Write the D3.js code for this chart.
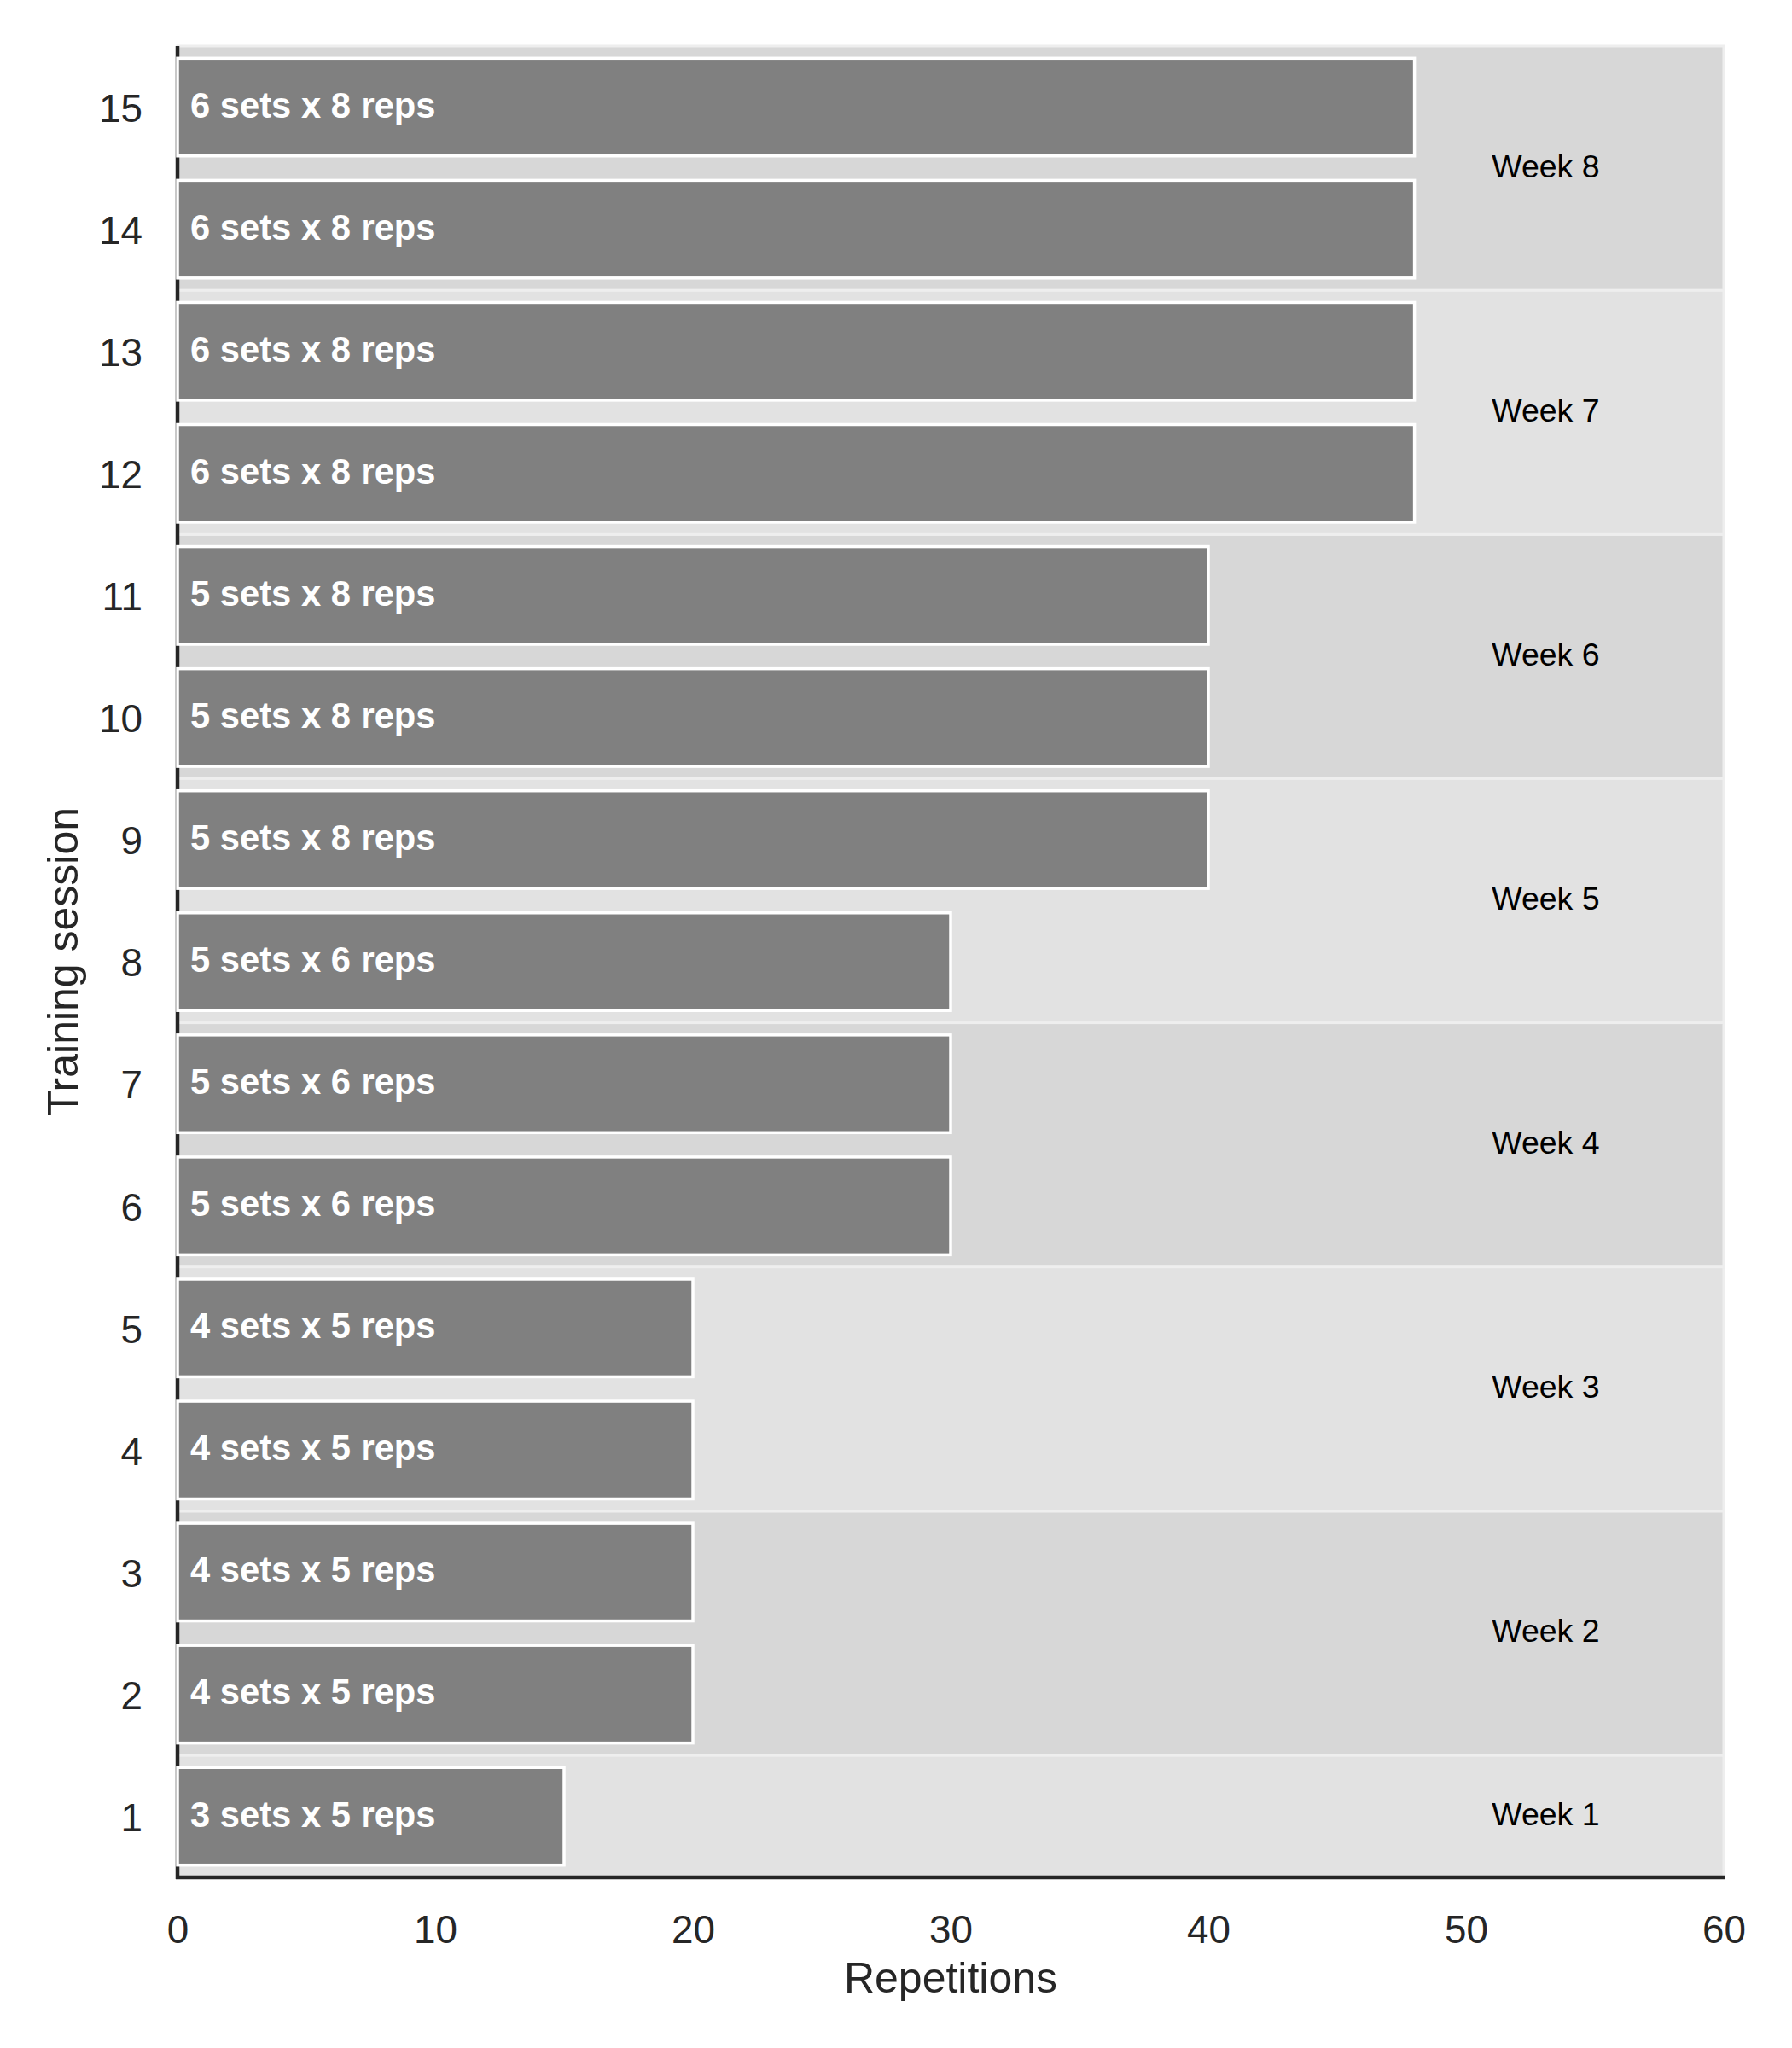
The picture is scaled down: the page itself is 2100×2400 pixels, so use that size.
<!DOCTYPE html>
<html>
<head>
<meta charset="utf-8">
<script src="https://cdn.jsdelivr.net/npm/d3@7"></script>
<style>
  html, body { margin: 0; padding: 0; background: #ffffff; }
  svg { display: block; }
</style>
</head>
<body>
<div id="chart"></div>
<script>
const sessions = [1, 2, 3, 4, 5, 6, 7, 8, 9, 10, 11, 12, 13, 14, 15];
const repetitions = [15, 20, 20, 20, 20, 30, 30, 30, 40, 40, 40, 48, 48, 48, 48];
const barLabels = [
  "3 sets x 5 reps",
  "4 sets x 5 reps", "4 sets x 5 reps", "4 sets x 5 reps", "4 sets x 5 reps",
  "5 sets x 6 reps", "5 sets x 6 reps", "5 sets x 6 reps",
  "5 sets x 8 reps", "5 sets x 8 reps", "5 sets x 8 reps",
  "6 sets x 8 reps", "6 sets x 8 reps", "6 sets x 8 reps", "6 sets x 8 reps"
];
const weekNames = ["Week 1", "Week 2", "Week 3", "Week 4", "Week 5", "Week 6", "Week 7", "Week 8"];
const weekFirstSession = [1, 2, 4, 6, 8, 10, 12, 14];
const weekLastSession = [1, 3, 5, 7, 9, 11, 13, 15];
const xTicks = [0, 10, 20, 30, 40, 50, 60];

const W = 2100, H = 2400;
const margin = { left: 208, right: 80, top: 54, bottom: 200 };
const plotRight = W - margin.right;
const plotBottom = H - margin.bottom;

const svg = d3.select("#chart").append("svg")
  .attr("width", W).attr("height", H)
  .style("font-family", "'Liberation Sans', Arial, sans-serif");

const x = d3.scaleLinear().domain([0, 60]).range([margin.left, plotRight]);
const y = d3.scaleBand().domain(sessions.slice().reverse())
  .range([margin.top, plotBottom]).paddingInner(0.2).paddingOuter(0.1);
const yLin = d3.scaleLinear().domain([0.5, 15.5]).range([plotBottom, margin.top]);

// week background bands
const weeks = weekNames.map((w, i) => ({ name: w, a: weekFirstSession[i], b: weekLastSession[i], i }));
const gBands = svg.append("g");
gBands.selectAll("rect").data(weeks).join("rect")
  .attr("x", x(0))
  .attr("width", x(60) - x(0))
  .attr("y", d => yLin(d.b + 0.5))
  .attr("height", d => yLin(d.a - 0.5) - yLin(d.b + 0.5))
  .attr("fill", d => d.i % 2 === 0 ? "#e2e2e2" : "#d7d7d7")
  .attr("stroke", "#eeeeee")
  .attr("stroke-width", 3);

gBands.selectAll("text").data(weeks).join("text")
  .attr("x", x(51))
  .attr("y", d => (yLin(d.b + 0.5) + yLin(d.a - 0.5)) / 2)
  .attr("dy", "0.28em")
  .attr("font-size", 37.5)
  .attr("fill", "#000000")
  .text(d => d.name);

// spines
svg.append("line")
  .attr("x1", x(0)).attr("x2", x(0))
  .attr("y1", margin.top).attr("y2", plotBottom + 2)
  .attr("stroke", "#262626").attr("stroke-width", 4.5);
svg.append("line")
  .attr("x1", x(0) - 2).attr("x2", x(60) + 2)
  .attr("y1", plotBottom).attr("y2", plotBottom)
  .attr("stroke", "#262626").attr("stroke-width", 4.5);

// bars
const data = sessions.map((s, i) => ({ s, v: repetitions[i], label: barLabels[i] }));
const gBars = svg.append("g");
gBars.selectAll("rect").data(data).join("rect")
  .attr("x", x(0))
  .attr("y", d => y(d.s))
  .attr("width", d => x(d.v) - x(0))
  .attr("height", y.bandwidth())
  .attr("fill", "#808080")
  .attr("stroke", "#ffffff")
  .attr("stroke-width", 3.5);

gBars.selectAll("text").data(data).join("text")
  .attr("x", x(0.5))
  .attr("y", d => y(d.s) + y.bandwidth() / 2)
  .attr("dy", "0.29em")
  .attr("font-size", 41.7)
  .attr("font-weight", "bold")
  .attr("fill", "#ffffff")
  .text(d => d.label);

// x axis tick labels
const xAxis = d3.axisBottom(x).tickValues(xTicks).tickSize(0).tickPadding(44);
const gx = svg.append("g").attr("transform", `translate(0,${plotBottom})`).call(xAxis);
gx.select(".domain").remove();
gx.selectAll("text").attr("font-size", 45.8).attr("fill", "#262626")
  .attr("font-family", "'Liberation Sans', Arial, sans-serif");

// y axis tick labels
const yAxis = d3.axisLeft(y).tickSize(0).tickPadding(41);
const gy = svg.append("g").attr("transform", `translate(${x(0)},0)`).call(yAxis);
gy.select(".domain").remove();
gy.selectAll("text").attr("font-size", 45.8).attr("fill", "#262626")
  .attr("dy", "0.38em")
  .attr("font-family", "'Liberation Sans', Arial, sans-serif");

// axis titles
svg.append("text")
  .attr("x", (x(0) + x(60)) / 2)
  .attr("y", 2317)
  .attr("dy", "0.35em")
  .attr("text-anchor", "middle")
  .attr("font-size", 50)
  .attr("fill", "#262626")
  .text("Repetitions");

svg.append("text")
  .attr("transform", `translate(73,${(margin.top + plotBottom) / 2}) rotate(-90)`)
  .attr("dy", "0.35em")
  .attr("text-anchor", "middle")
  .attr("font-size", 50)
  .attr("fill", "#262626")
  .text("Training session");
</script>
</body>
</html>
